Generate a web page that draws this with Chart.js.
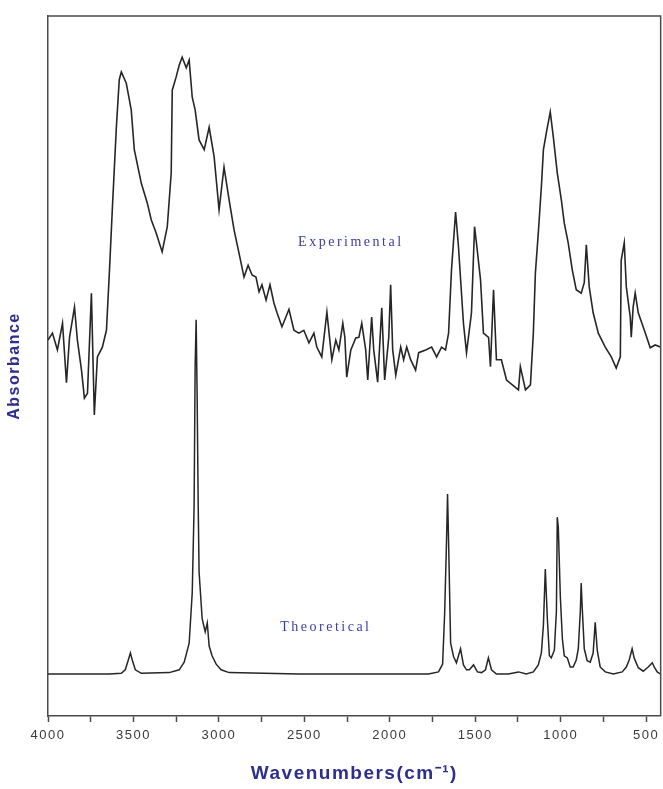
<!DOCTYPE html>
<html>
<head>
<meta charset="utf-8">
<script src="https://cdn.jsdelivr.net/npm/chart.js@4.4.1/dist/chart.umd.min.js"></script>
<style>
  html, body { margin: 0; padding: 0; background: #fff; }
  canvas { display: block; }
</style>
</head>
<body>
<canvas id="irChart" width="663" height="789"></canvas>
<script>
// ---------- Data ----------
// experimental spectrum (wavenumber in cm-1, absorbance in arbitrary units)
const expWavenumbers = [
  4000, 3974, 3945, 3915, 3892, 3874, 3845, 3828, 3804, 3787, 3769, 3746, 3729, 3711, 3682, 3658,
  3641, 3623, 3600, 3583, 3571, 3542, 3513, 3495, 3454, 3419, 3396, 3367, 3332, 3302, 3279, 3273,
  3250, 3232, 3215, 3191, 3174, 3156, 3139, 3116, 3086, 3057, 3028, 2999, 2970, 2940, 2911,
  2882, 2853, 2829, 2806, 2783, 2765, 2748, 2724, 2701, 2678, 2660, 2631, 2608, 2590, 2561, 2532,
  2503, 2473, 2444, 2427, 2398, 2368, 2357, 2339, 2316, 2298, 2275, 2263, 2252, 2228, 2199, 2181,
  2164, 2141, 2129, 2106, 2094, 2071, 2047, 2030, 2006, 1995, 1983, 1965, 1936, 1919, 1901, 1878,
  1849, 1831, 1790, 1755, 1726, 1697, 1674, 1656, 1639,
  1615, 1598, 1569, 1551, 1522, 1504, 1493, 1469, 1452, 1422, 1411, 1393, 1376, 1347, 1317, 1247,
  1236, 1206, 1177, 1160, 1148, 1131, 1113, 1101, 1084, 1061, 1043, 1020, 996, 979, 956, 932,
  909, 880, 862, 850, 833, 810, 780, 739, 704, 675, 651, 646, 628, 616, 593, 587,
  576, 564, 546, 505, 476, 447, 417
];
const expAbsorbance = [
  53.7, 54.7, 52.3, 56.1, 47.6, 54.1, 58.4, 53.7, 49.4, 45.4, 46.1, 60.4, 43.0, 51.3, 52.7, 55.1,
  63.3, 72.7, 84.1, 90.9, 92.0, 90.4, 86.6, 80.9, 76.1, 73.3, 70.9, 69.0, 66.3, 69.9, 77.6, 89.4,
  91.3, 93.0, 94.1, 92.6, 93.7, 88.4, 86.6, 82.3, 80.9, 84.1, 79.9, 72.3, 78.4, 73.7, 69.4,
  66.1, 62.7, 64.4, 63.0, 62.7, 60.6, 61.6, 59.4, 61.6, 59.0, 57.6, 55.6, 57.0, 58.1, 55.1, 54.7,
  55.1, 53.3, 54.7, 52.7, 51.3, 57.7, 55.1, 50.9, 53.7, 52.3, 56.1, 54.1, 48.4, 52.3, 54.0, 54.1,
  56.1, 52.3, 48.0, 57.0, 52.3, 47.7, 58.3, 48.0, 54.1, 61.6, 52.3, 48.7, 52.7, 50.9, 52.7, 50.9,
  49.4, 51.9, 52.3, 52.7, 51.3, 52.7, 52.3, 54.7, 63.7,
  72.0, 67.0, 56.1, 51.9, 57.6, 69.9, 67.6, 62.3, 54.7, 54.1, 49.9, 60.9, 50.9, 50.9, 48.0, 46.6,
  49.9, 46.6, 47.3, 54.7, 63.3, 69.0, 75.6, 80.9, 83.3, 86.3, 82.7, 77.6, 73.7, 70.4, 67.6, 63.7,
  60.9, 60.4, 61.9, 67.3, 61.3, 57.6, 54.7, 52.7, 51.3, 49.7, 51.3, 65.1, 67.6, 61.3, 57.0, 54.1,
  58.4, 60.4, 57.6, 54.7, 52.6, 53.0, 52.7
];

// theoretical (calculated) spectrum
const theoWavenumbers = [
  4000, 3641, 3571, 3548, 3530, 3518, 3507, 3489, 3454, 3291, 3232, 3203, 3174, 3156, 3145, 3139,
  3133, 3127, 3121, 3116, 3098, 3080, 3068, 3057, 3040, 3016, 2987, 2940, 2532, 1773, 1715, 1691,
  1679, 1668, 1662, 1656, 1644, 1627, 1610, 1586, 1569, 1551, 1534, 1510, 1487, 1463, 1440, 1423,
  1405, 1376, 1306, 1247, 1201, 1160, 1131, 1113, 1101, 1090, 1078, 1066, 1055, 1037, 1025, 1020,
  1014, 1002, 990, 979, 961, 944, 927, 909, 897, 885, 880, 874, 862, 845, 827, 810,
  798, 786, 769, 739, 692, 640, 616, 599, 582, 570, 546, 517, 488, 464, 453, 435, 417
];
const theoAbsorbance = [
  6.0, 6.0, 6.1, 6.6, 8.0, 9.0, 8.0, 6.6, 6.1, 6.2, 6.6, 7.7, 10.4, 17.6, 30.0, 50.0,
  56.6, 45.0, 30.0, 20.6, 13.9, 12.0, 13.3, 10.0, 8.6, 7.4, 6.6, 6.2, 6.0, 6.0, 6.3, 7.4,
  14.6, 25.0, 31.7, 25.0, 10.4, 8.5, 7.6, 9.6, 7.3, 6.6, 6.6, 7.3, 6.3, 6.2, 6.6, 8.3,
  6.6, 6.0, 6.0, 6.3, 6.0, 6.3, 7.3, 9.0, 13.0, 21.0, 13.9, 8.6, 8.3, 9.4, 15.0, 28.4,
  27.0, 17.0, 11.0, 8.6, 8.3, 7.0, 7.0, 8.0, 9.6, 15.0, 19.0, 15.5, 9.6, 7.9, 7.7, 9.0,
  13.4, 9.4, 7.0, 6.3, 6.0, 6.3, 7.0, 8.0, 9.6, 8.3, 6.9, 6.4, 7.0, 7.6, 7.0, 6.3, 6.0
];

const tickLabels = [4000, 3500, 3000, 2500, 2000, 1500, 1000, 500];
const minorStep = 250;

const seriesNames = ['Experimental', 'Theoretical'];
// where the series names sit, in data units
const nameX = [2228, 2374];
const nameY = [67.7, 12.6];

// ---------- Helpers ----------
const toPoints = (xs, ys) => xs.map((x, i) => ({ x: x, y: ys[i] }));

// frame round the plot area (top and right edges)
const framePlugin = {
  id: 'frame',
  afterDraw(chart) {
    const { ctx, chartArea: a } = chart;
    ctx.save();
    ctx.strokeStyle = '#4a4a4a';
    ctx.lineWidth = 1.5;
    ctx.beginPath();
    ctx.moveTo(a.left, a.top);
    ctx.lineTo(a.right, a.top);
    ctx.lineTo(a.right, a.bottom);
    ctx.stroke();
    ctx.restore();
  }
};

// series names written inside the plot
const namesPlugin = {
  id: 'names',
  afterDatasetsDraw(chart) {
    const { ctx, scales } = chart;
    ctx.save();
    ctx.font = '14px "Liberation Serif", "Times New Roman", serif';
    ctx.fillStyle = '#3c3ca6';
    ctx.letterSpacing = '2.5px';
    ctx.textAlign = 'center';
    ctx.textBaseline = 'middle';
    seriesNames.forEach((n, i) => {
      ctx.fillText(n, scales.x.getPixelForValue(nameX[i]), scales.y.getPixelForValue(nameY[i]));
    });
    ctx.restore();
  }
};

// spread out the axis lettering a little, like the original
const spacingPlugin = {
  id: 'spacing',
  beforeDraw(chart) {
    chart.ctx.letterSpacing = '1.5px';
  }
};

// ---------- Chart ----------
const ctx = document.getElementById('irChart').getContext('2d');
const chart = new Chart(ctx, {
  type: 'line',
  data: {
    datasets: [{
      label: seriesNames[0],
      data: toPoints(expWavenumbers, expAbsorbance),
      borderColor: '#262626',
      borderWidth: 1.6,
      pointRadius: 0,
      tension: 0
    }, {
      label: seriesNames[1],
      data: toPoints(theoWavenumbers, theoAbsorbance),
      borderColor: '#262626',
      borderWidth: 1.5,
      pointRadius: 0,
      tension: 0
    }]
  },
  options: {
    responsive: false,
    animation: false,
    devicePixelRatio: 1,
    layout: { padding: { top: 16, right: 1, left: 0, bottom: 0 } },
    plugins: {
      legend: { display: false },
      tooltip: { enabled: false }
    },
    scales: {
      x: {
        type: 'linear',
        reverse: true,
        min: 415,
        max: 4000,
        // major ticks every 500, minor every 250
        afterBuildTicks: s => {
          const t = [];
          for (let v = tickLabels[0]; v >= tickLabels[tickLabels.length - 1]; v -= minorStep) {
            t.push({ value: v });
          }
          s.ticks = t;
        },
        afterFit: s => { s.height = 73; },
        ticks: {
          autoSkip: false,
          maxRotation: 0,
          padding: 6,
          color: '#3a3a3a',
          font: { family: 'Arial, "Liberation Sans", sans-serif', size: 13 },
          callback: v => tickLabels.includes(v) ? String(v) : ''
        },
        grid: {
          display: true,
          drawOnChartArea: false,
          drawTicks: true,
          tickLength: 6,
          tickWidth: 1.5,
          tickColor: '#4a4a4a'
        },
        border: { display: true, color: '#4a4a4a', width: 1.5 },
        title: {
          display: true,
          text: 'Wavenumbers(cm\u207B\u00B9)',
          color: '#2e2e8e',
          font: { family: 'Arial, "Liberation Sans", sans-serif', size: 19, weight: 'bold' },
          padding: { top: 8 }
        }
      },
      y: {
        min: 0,
        max: 100,
        afterFit: s => { s.width = 48; },
        ticks: { display: false },
        grid: { display: false },
        border: { display: true, color: '#4a4a4a', width: 1.5 },
        title: {
          display: true,
          text: 'Absorbance',
          color: '#2e2e8e',
          font: { family: 'Arial, "Liberation Sans", sans-serif', size: 16, weight: 'bold' },
          padding: { top: 5, bottom: 8 }
        }
      }
    }
  },
  plugins: [spacingPlugin, framePlugin, namesPlugin]
});
</script>
</body>
</html>
